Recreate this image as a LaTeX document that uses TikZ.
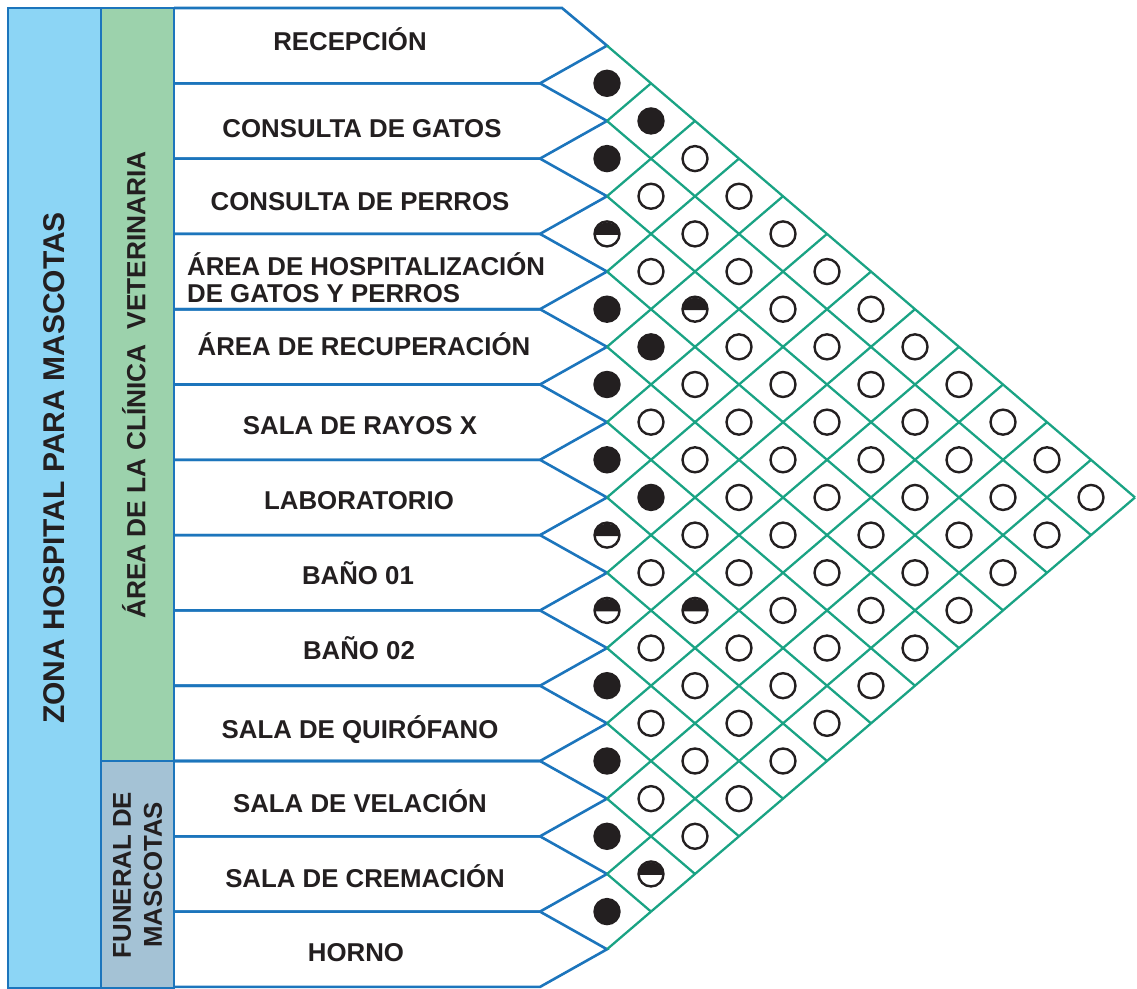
\documentclass[tikz,border=0pt]{standalone}
\usepackage{fontspec}
\setmainfont{Liberation Sans}
\definecolor{lineblue}{RGB}{28,117,188}
\definecolor{gridgreen}{RGB}{26,163,132}
\definecolor{zonablue}{RGB}{140,213,245}
\definecolor{clinicgreen}{RGB}{156,210,172}
\definecolor{funeralgray}{RGB}{164,194,213}
\definecolor{ink}{RGB}{35,31,32}
\newcommand\setcell[3]{\expandafter\def\csname cell-#1-#2\endcsname{#3}}
% B = filled, H = half, otherwise open circle
\setcell{1}{2}{B}\setcell{1}{3}{B}\setcell{2}{3}{B}\setcell{3}{4}{H}
\setcell{3}{6}{H}\setcell{4}{5}{B}\setcell{4}{6}{B}\setcell{5}{6}{B}
\setcell{6}{7}{B}\setcell{6}{8}{B}\setcell{7}{8}{H}\setcell{7}{10}{H}
\setcell{8}{9}{H}\setcell{9}{10}{B}\setcell{10}{11}{B}\setcell{11}{12}{B}
\setcell{11}{13}{H}\setcell{12}{13}{B}
\newcommand\symW[2]{\draw[symline,fill=white] (#1,#2) circle[radius=12.5];}
\newcommand\symB[2]{\draw[symline,fill=ink] (#1,#2) circle[radius=12.5];}
\newcommand\symH[2]{\fill[ink] (#1,#2) ++(-12.5,1) arc[start angle=180,end angle=360,radius=12.5] -- cycle;
  \draw[symline] (#1,#2) circle[radius=12.5];}
\begin{document}
\begin{tikzpicture}[x=1pt,y=-1pt,
  bline/.style={draw=lineblue,line width=2.6pt,line join=miter},
  gline/.style={draw=gridgreen,line width=2.3pt},
  symline/.style={draw=ink,line width=2.4pt},
  lbl/.style={font=\fontsize{25.8}{27}\selectfont\bfseries,text=ink,inner sep=0pt,
    text height=18.5pt,text depth=0pt},
  lbltwo/.style={font=\fontsize{25.8}{27}\selectfont\bfseries,text=ink,inner sep=0pt,align=left},
  vlbl/.style={font=\fontsize{30}{31}\selectfont\bfseries,text=ink,inner sep=0pt,
    text height=21.5pt,text depth=0pt,rotate=90},
  vlblmid/.style={font=\fontsize{26.3}{27}\selectfont\bfseries,text=ink,inner sep=0pt,
    text height=18.8pt,text depth=0pt,rotate=90},
  vlblsmall/.style={font=\fontsize{25.8}{31}\selectfont\bfseries,text=ink,inner sep=0pt,rotate=90}]
\useasboundingbox (0,0) rectangle (1137,988);
\pgfmathsetmacro\h{75.3}
\pgfmathsetmacro\d{44}
% left columns
\draw[bline,fill=zonablue] (8,8) rectangle (101,987.9);
\draw[bline,fill=clinicgreen] (101,8) rectangle (174,761);
\draw[bline,fill=funeralgray] (101,761) rectangle (174,987.9);
% row pentagons
\foreach \i in {1,...,13}{
  \pgfmathsetmacro\yt{8+\h*(\i-1)}
  \pgfmathsetmacro\yb{8+\h*\i}
  \pgfmathsetmacro\yc{8+\h*(\i-0.5)}
  \pgfmathsetmacro\xt{\i==1 ? 562 : 540}
  \draw[bline] (174,\yt) -- (\xt,\yt) -- (607,\yc) -- (540,\yb) -- (174,\yb);
  \coordinate (t\i) at (607,\yc);
}
% diamond grid
\foreach \i in {1,...,12}{
  \pgfmathsetmacro\k{13-\i}
  \draw[gline] (t\i) -- ++(\k*\d,\k*\h/2);
}
\foreach \i in {2,...,13}{
  \pgfmathsetmacro\k{\i-1}
  \draw[gline] (t\i) -- ++(\k*\d,-\k*\h/2);
}
% symbols
\foreach \i in {1,...,12}{
  \pgfmathtruncatemacro\jstart{\i+1}
  \foreach \j in {\jstart,...,13}{
    \pgfmathsetmacro\cx{607+(\j-\i-1)*\d}
    \pgfmathsetmacro\cy{8+\h*(\i+\j-1)/2}
    \ifcsname cell-\i-\j\endcsname
      \edef\typ{\csname cell-\i-\j\endcsname}
    \else
      \def\typ{W}
    \fi
    \csname sym\typ\endcsname{\cx}{\cy}
  }
}
% row labels
\foreach \i/\xx/\dy/\txt in {1/350/-4/RECEPCIÓN,2/362/7/CONSULTA DE GATOS,
  3/360/5/CONSULTA DE PERROS,5/364/-1/ÁREA DE RECUPERACIÓN,6/360/3/SALA DE RAYOS X,
  7/359/2.5/LABORATORIO,8/358/2.5/BAÑO 01,9/359/2/BAÑO 02,
  10/360/6/SALA DE QUIRÓFANO,11/360/4.5/SALA DE VELACIÓN,12/365/4/SALA DE CREMACIÓN,
  13/356/3/HORNO}{
  \pgfmathsetmacro\yc{8+\h*(\i-0.5)+\dy}
  \node[lbl] (r\i) at (\xx,\yc) {\txt};
}
\node[lbltwo,anchor=west] (r4) at (187,277.5) {ÁREA DE HOSPITALIZACIÓN\\DE GATOS Y PERROS};
% group labels
\node[vlbl] (zona) at (54,468) {ZONA HOSPITAL PARA MASCOTAS};
\node[vlblmid] (clinica) at (136,385) {ÁREA DE LA CLÍNICA\hspace{0.556em}VETERINARIA};
\node[vlblsmall,align=center] (funeral) at (137.5,875) {FUNERAL DE\\MASCOTAS};
\end{tikzpicture}
\end{document}
